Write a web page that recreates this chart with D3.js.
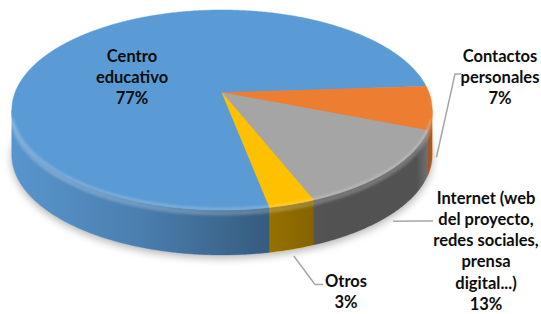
<!DOCTYPE html>
<html lang="es">
<head>
<meta charset="UTF-8">
<title>Cómo conociste el proyecto</title>
<script src="https://cdnjs.cloudflare.com/ajax/libs/d3/7.8.5/d3.min.js"></script>
<style>
  html, body { margin: 0; padding: 0; background: #fff; }
  svg { display: block; }
  .lbl { font-family: Lato, "Open Sans", sans-serif; font-weight: 700; font-size: 16.5px; fill: #0d0d0d; text-anchor: middle; }
  .leader { fill: none; stroke: #a6a6a6; stroke-width: 1.5; }
</style>
</head>
<body>
<script>
// data
const categories = ["Centro educativo", "Contactos personales",
  "Internet (web del proyecto, redes sociales, prensa digital...)", "Otros"];
const values = [77, 7, 13, 3];
const labelLines = [
  ["Centro", "educativo"],
  ["Contactos", "personales"],
  ["Internet (web", "del proyecto,", "redes sociales,", "prensa", "digital...)"],
  ["Otros"]
];
const sliceColors = ["#5b9bd5", "#ed7d31", "#a5a5a5", "#ffc000"];

// label layout: [centre x, first baseline, leader elbow x, elbow y, leader end x]
const labelLayout = [
  [132, 61.5, null, null, null],
  [500, 61.5, 455, 74, 461],
  [486, 203.5, 420, 221, 433],
  [346, 286.5, 315, 284.5, 323]
];

const width = 541, height = 314;
const cx = 222, cy = 92.7, rx = 207, ry = 97, persp = 0.173, depth = 45;
const startDeg = 169, lineH = 21.3;

const svg = d3.select("body").append("svg")
  .attr("width", width)
  .attr("height", height);

const defs = svg.append("defs");
defs.append("filter").attr("id", "blur").attr("x", "-20%").attr("y", "-20%")
  .attr("width", "140%").attr("height", "140%")
  .append("feGaussianBlur").attr("stdDeviation", 4);
defs.append("filter").attr("id", "soft")
  .append("feGaussianBlur").attr("stdDeviation", 1.2);

const shade = defs.append("linearGradient").attr("id", "shade")
  .attr("gradientUnits", "userSpaceOnUse")
  .attr("x1", cx - rx).attr("x2", cx + rx).attr("y1", 0).attr("y2", 0);
[[0, 0.04], [0.3, 0.18], [0.6, 0.4], [0.75, 0.5], [0.97, 0.5], [1, 0.3]].forEach(s =>
  shade.append("stop").attr("offset", s[0]).attr("stop-color", "#000").attr("stop-opacity", s[1]));

// angle 0 = far edge, clockwise; simple perspective squash
function project(a, r, dy) {
  const s = 1 / (1 + persp * r * Math.cos(a));
  return [cx + rx * r * Math.sin(a) * s, cy - ry * r * Math.cos(a) * s + (dy || 0)];
}
function arcPoints(a0, a1, dy) {
  const n = Math.max(2, Math.ceil(Math.abs(a1 - a0) / 0.01));
  return d3.range(n + 1).map(i => project(a0 + (a1 - a0) * i / n, 1, dy));
}
const line = d3.line();

const start = startDeg * Math.PI / 180;
const pie = d3.pie().sort(null).startAngle(start).endAngle(start + 2 * Math.PI);
const arcs = pie(values);

const vis0 = Math.acos(-persp), vis1 = 2 * Math.PI - vis0;

// shadow under the disc
svg.append("path")
  .attr("d", line(arcPoints(0, 2 * Math.PI, depth + 3)) + "Z")
  .attr("fill", "#000").attr("opacity", 0.3)
  .attr("filter", "url(#blur)");

// side walls
const sides = svg.append("g");
arcs.forEach((d, i) => {
  [-2 * Math.PI, 0, 2 * Math.PI].forEach(off => {
    const lo = Math.max(d.startAngle, vis0 + off), hi = Math.min(d.endAngle, vis1 + off);
    if (hi <= lo) return;
    const pts = arcPoints(lo, hi, 0).concat(arcPoints(hi, lo, depth));
    sides.append("path").attr("d", line(pts) + "Z")
      .attr("fill", sliceColors[i]).attr("stroke", sliceColors[i]).attr("stroke-width", 0.5);
  });
});
const band = arcPoints(vis0, vis1, 0).concat(arcPoints(vis1, vis0, depth));
sides.append("path").attr("d", line(band) + "Z").attr("fill", "url(#shade)");
// bevel light along the top of the wall
sides.append("path").attr("class", "bevel")
  .attr("d", line(arcPoints(vis0 + 0.05, vis1 - 0.05, 3)))
  .attr("fill", "none").attr("stroke", "#fff").attr("stroke-width", 5)
  .attr("stroke-opacity", 0.2).attr("filter", "url(#soft)");

// top faces
svg.append("g").selectAll("path")
  .data(arcs)
  .join("path")
  .attr("d", d => line([project(0, 0)].concat(arcPoints(d.startAngle, d.endAngle, 0))) + "Z")
  .attr("fill", (d, i) => sliceColors[i])
  .attr("stroke", (d, i) => sliceColors[i])
  .attr("stroke-width", 0.5);

// rim highlight on the front edge of the top
svg.append("path")
  .attr("d", line(arcPoints(vis0 + 0.1, vis1 - 0.1, -1)))
  .attr("fill", "none").attr("stroke", "#fff").attr("stroke-width", 2)
  .attr("stroke-opacity", 0.25).attr("filter", "url(#soft)");

// leader lines
const total = d3.sum(values);
arcs.forEach((d, i) => {
  const L = labelLayout[i];
  if (L[2] == null) return;
  const mid = (d.startAngle + d.endAngle) / 2;
  const p = project(mid, 1.02, depth + 4);
  svg.append("path").attr("class", "leader")
    .attr("d", line([p, [L[2], L[3]], [L[4], L[3]]]));
});

// data labels
const fmt = d3.format(".0%");
svg.append("g").selectAll("text")
  .data(arcs)
  .join("text")
  .attr("class", "lbl")
  .each(function(d, i) {
    const L = labelLayout[i];
    const lines = labelLines[i].concat([fmt(d.value / total)]);
    d3.select(this).selectAll("tspan")
      .data(lines)
      .join("tspan")
      .attr("x", L[0])
      .attr("y", (t, j) => L[1] + j * lineH)
      .text(t => t);
  });
</script>
</body>
</html>
